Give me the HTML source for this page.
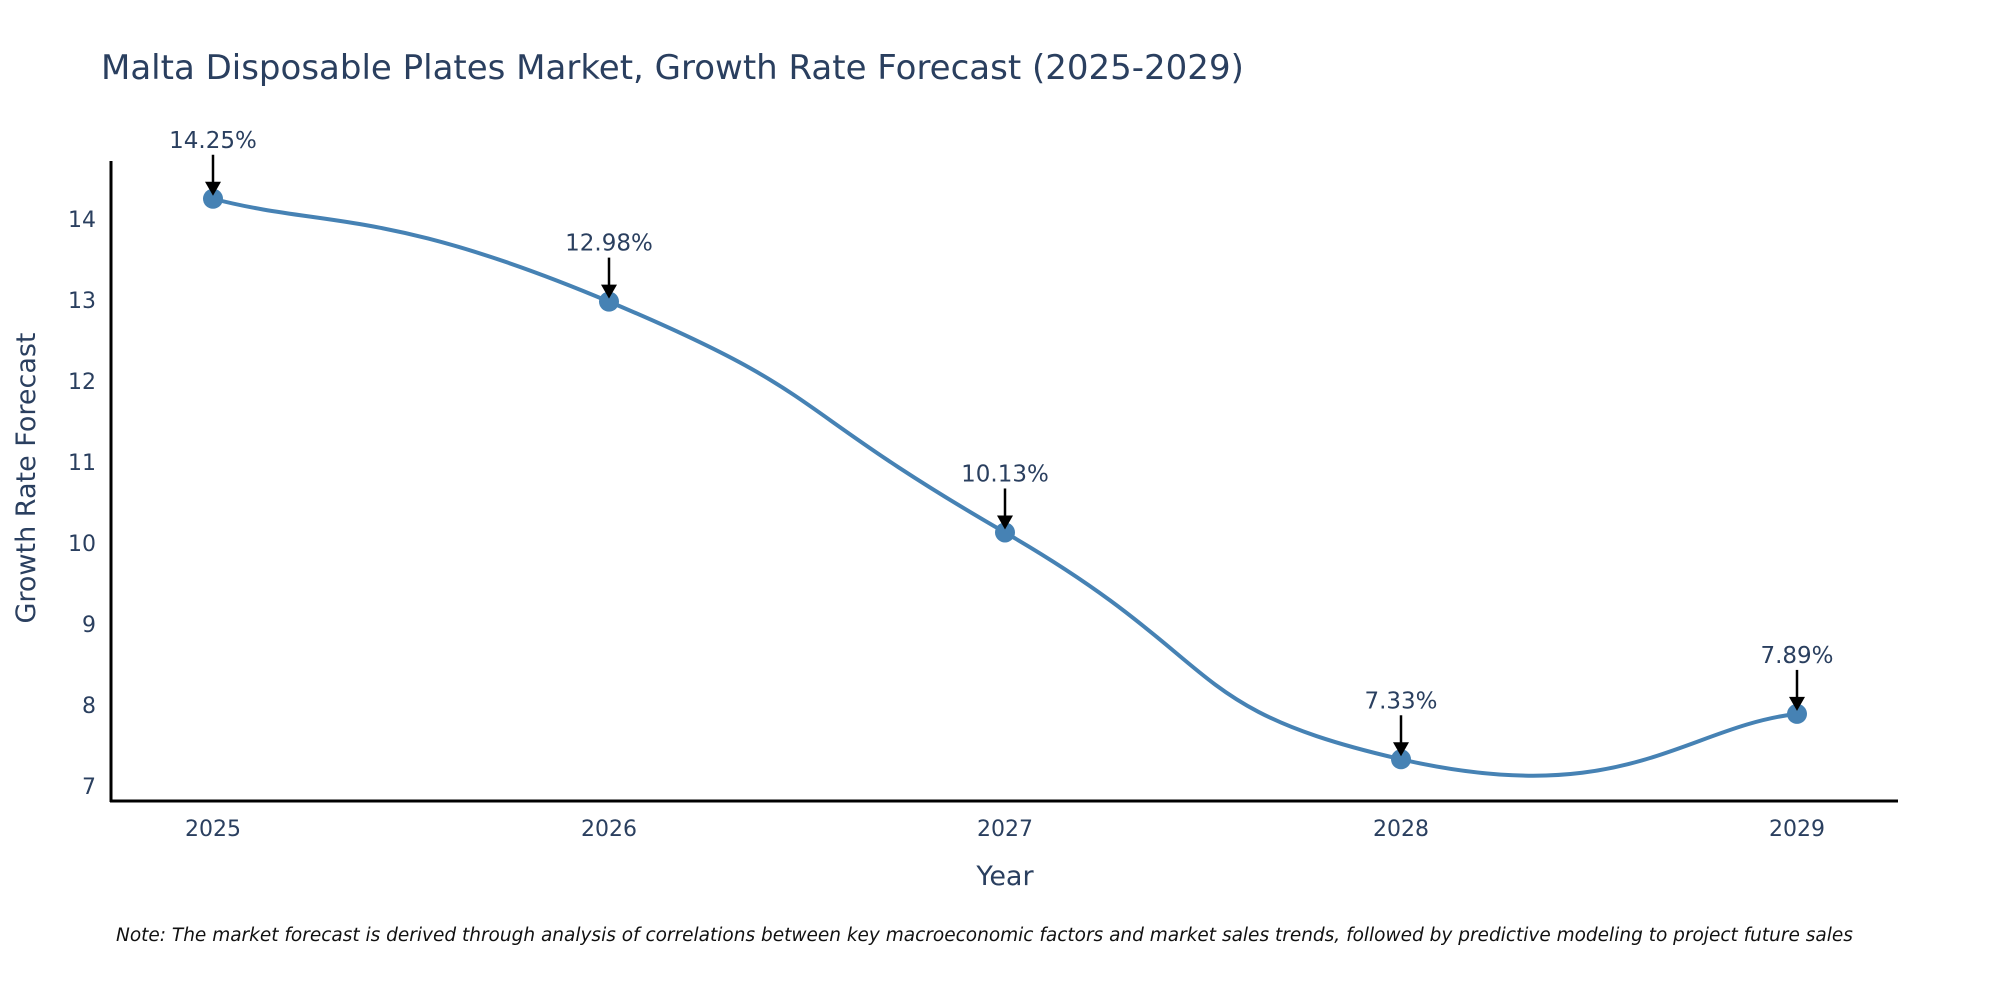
<!DOCTYPE html>
<html><head><meta charset="utf-8"><style>
html,body{margin:0;padding:0;background:#fff;}
svg{display:block;font-family:"DejaVu Sans","Liberation Sans",sans-serif;}
</style></head><body>
<svg id="chart" width="2000" height="1000">
<text x="101" y="79" font-size="34" fill="#2a3f5f">Malta Disposable Plates Market, Growth Rate Forecast (2025-2029)</text>
<g id="yticks"></g><g id="xticks"></g>
<line x1="111" y1="161" x2="111" y2="802" stroke="#000" stroke-width="3"/>
<line x1="110" y1="801" x2="1898" y2="801" stroke="#000" stroke-width="3"/>
<text x="1005" y="885" font-size="27" fill="#2a3f5f" text-anchor="middle">Year</text>
<text transform="translate(35,478) rotate(-90)" font-size="27" fill="#2a3f5f" text-anchor="middle">Growth Rate Forecast</text>
<path id="line" fill="none" stroke="#4682b4" stroke-width="4"/>
<g id="marks"></g>
<text x="116" y="941" font-size="18.5" font-style="italic" fill="#111">Note: The market forecast is derived through analysis of correlations between key macroeconomic factors and market sales trends, followed by predictive modeling to project future sales</text>
</svg>
<script>
const years=["2025","2026","2027","2028","2029"];
const values=[14.25,12.98,10.13,7.33,7.89];
const yTicks=[7,8,9,10,11,12,13,14];
const NS="http://www.w3.org/2000/svg";
function xs(i){return 213+i*396;}
function ys(v){return 786-(v-7)*81;}
function mk(t,a,p){const e=document.createElementNS(NS,t);for(const k in a)e.setAttribute(k,a[k]);p.appendChild(e);return e;}
const yt=document.getElementById('yticks'),xt=document.getElementById('xticks'),mg=document.getElementById('marks');
yTicks.forEach(v=>{const t=mk('text',{x:96,y:ys(v)+8,'font-size':22,fill:'#2a3f5f','text-anchor':'end'},yt);t.textContent=v;

});
years.forEach((y,i)=>{const t=mk('text',{x:xs(i),y:836,'font-size':22,fill:'#2a3f5f','text-anchor':'middle'},xt);t.textContent=y;

});
const P=values.map((v,i)=>[xs(i),ys(v)]);
let d='M'+P[0][0]+','+P[0][1];const s=0.85;
for(let i=0;i<P.length-1;i++){const p0=P[i-1]||P[i],p1=P[i],p2=P[i+1],p3=P[i+2]||P[i+1];
const c1=[p1[0]+(p2[0]-p0[0])*s/3,p1[1]+(p2[1]-p0[1])*s/3],c2=[p2[0]-(p3[0]-p1[0])*s/3,p2[1]-(p3[1]-p1[1])*s/3];
d+=' C'+c1+' '+c2+' '+p2;}
document.getElementById('line').setAttribute('d',d);
P.forEach((p,i)=>{
const c=mk('circle',{cx:p[0],cy:p[1],r:10,fill:'#4682b4'},mg);


const a=mk('line',{x1:p[0],y1:p[1]-44,x2:p[0],y2:p[1]-16,stroke:'#000','stroke-width':2.5},mg);


const h=mk('path',{d:`M${p[0]-8},${p[1]-17} L${p[0]+8},${p[1]-17} L${p[0]},${p[1]-3} Z`,fill:'#000'},mg);


const t=mk('text',{x:p[0],y:p[1]-51,'font-size':23,fill:'#2a3f5f','text-anchor':'middle'},mg);
t.textContent=values[i].toFixed(2)+'%';

});
</script>
</body></html>
